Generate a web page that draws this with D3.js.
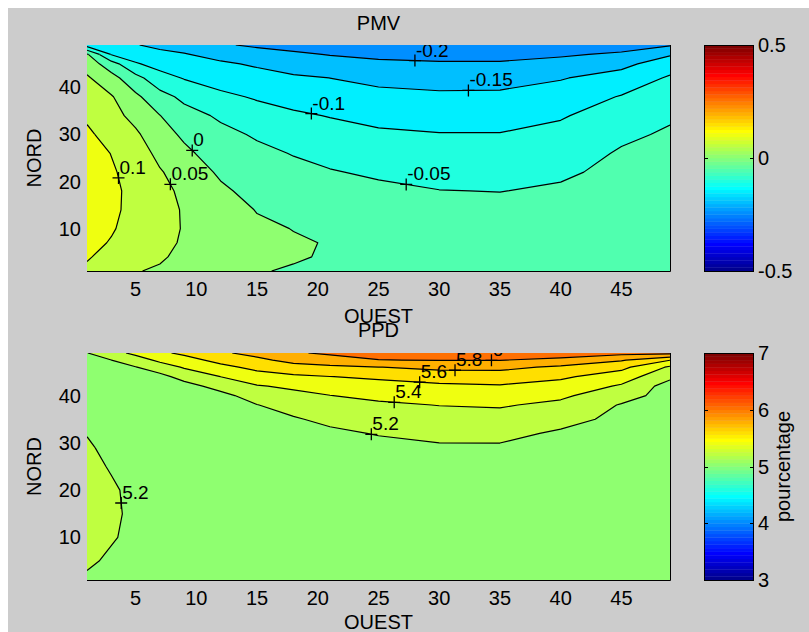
<!DOCTYPE html>
<html><head><meta charset="utf-8">
<script src="https://cdn.jsdelivr.net/npm/d3@7"></script>
<style>body{margin:0;background:#fff;} text{font-family:"Liberation Sans",Arial,Helvetica,sans-serif;fill:#000;}</style>
</head><body><svg id="c" width="809" height="632"></svg>
<script>
// ---------- data ----------
const xNodes = [1, 3, 5, 7, 9, 12, 15, 18, 21, 25, 30, 35, 40, 45, 49];
const pmvYNodes = [1, 4, 7, 10, 14, 18, 22, 26, 30, 34, 38, 42, 45, 47, 49];
const ppdYNodes = [1, 5, 10, 15, 20, 25, 29, 32, 35, 38, 40, 42, 44, 46, 47.5, 49];
// one array per x node, values from bottom (NORD=1) to top (NORD=49)
const pmvColumns = [
  [0.092, 0.104, 0.113, 0.120, 0.125, 0.127, 0.125, 0.119, 0.108, 0.093, 0.074, 0.056, 0.030, 0.006, -0.120],
  [0.072, 0.085, 0.097, 0.104, 0.108, 0.109, 0.105, 0.099, 0.083, 0.067, 0.054, 0.018, -0.029, -0.103, -0.130],
  [0.052, 0.065, 0.076, 0.083, 0.088, 0.088, 0.084, 0.075, 0.058, 0.035, 0.010, -0.034, -0.095, -0.124, -0.148],
  [0.045, 0.055, 0.062, 0.066, 0.067, 0.064, 0.054, 0.037, 0.019, 0.001, -0.033, -0.081, -0.118, -0.139, -0.160],
  [0.032, 0.040, 0.045, 0.047, 0.046, 0.040, 0.028, 0.010, -0.008, -0.032, -0.061, -0.103, -0.130, -0.147, -0.170],
  [0.016, 0.022, 0.026, 0.026, 0.022, 0.008, -0.007, -0.023, -0.038, -0.057, -0.090, -0.120, -0.143, -0.166, -0.195],
  [0.002, 0.008, 0.010, 0.008, -0.002, -0.015, -0.027, -0.040, -0.055, -0.080, -0.105, -0.133, -0.156, -0.182, -0.207],
  [-0.003, 0.003, 0.004, -0.001, -0.013, -0.026, -0.039, -0.052, -0.072, -0.093, -0.117, -0.143, -0.172, -0.193, -0.215],
  [-0.010, -0.003, -0.002, -0.011, -0.023, -0.035, -0.047, -0.064, -0.083, -0.102, -0.126, -0.1502, -0.181, -0.202, -0.222],
  [-0.015, -0.010, -0.010, -0.015, -0.025, -0.040, -0.057, -0.075, -0.093, -0.113, -0.136, -0.163, -0.190, -0.211, -0.235],
  [-0.020, -0.016, -0.017, -0.022, -0.032, -0.049, -0.065, -0.082, -0.098, -0.119, -0.141, -0.169, -0.194, -0.217, -0.243],
  [-0.024, -0.021, -0.021, -0.026, -0.035, -0.051, -0.067, -0.082, -0.098, -0.119, -0.140, -0.168, -0.193, -0.219, -0.249],
  [-0.025, -0.022, -0.022, -0.025, -0.032, -0.043, -0.058, -0.073, -0.088, -0.104, -0.128, -0.153, -0.184, -0.206, -0.235],
  [-0.025, -0.022, -0.021, -0.022, -0.025, -0.030, -0.037, -0.045, -0.059, -0.078, -0.097, -0.131, -0.163, -0.193, -0.220],
  [-0.025, -0.022, -0.021, -0.021, -0.023, -0.026, -0.030, -0.036, -0.044, -0.056, -0.075, -0.094, -0.124, -0.155, -0.205]
];
const ppdColumns = [
  [5.185, 5.215, 5.235, 5.245, 5.240, 5.225, 5.210, 5.197, 5.185, 5.172, 5.165, 5.162, 5.163, 5.170, 5.180, 5.195],
  [5.160, 5.185, 5.208, 5.215, 5.212, 5.193, 5.180, 5.170, 5.162, 5.155, 5.152, 5.152, 5.158, 5.175, 5.199, 5.330],
  [5.150, 5.165, 5.178, 5.182, 5.178, 5.168, 5.160, 5.155, 5.150, 5.148, 5.148, 5.152, 5.165, 5.193, 5.310, 5.445],
  [5.140, 5.152, 5.162, 5.165, 5.162, 5.155, 5.148, 5.145, 5.143, 5.143, 5.143, 5.140, 5.140, 5.307, 5.440, 5.567],
  [5.135, 5.145, 5.153, 5.155, 5.153, 5.148, 5.145, 5.142, 5.140, 5.135, 5.130, 5.127, 5.273, 5.418, 5.527, 5.636],
  [5.130, 5.137, 5.142, 5.143, 5.142, 5.138, 5.136, 5.135, 5.135, 5.138, 5.142, 5.271, 5.401, 5.548, 5.659, 5.770],
  [5.127, 5.132, 5.137, 5.138, 5.137, 5.133, 5.132, 5.132, 5.135, 5.195, 5.290, 5.386, 5.517, 5.653, 5.753, 5.864],
  [5.123, 5.128, 5.133, 5.134, 5.133, 5.130, 5.130, 5.135, 5.180, 5.282, 5.349, 5.433, 5.567, 5.725, 5.863, 5.975],
  [5.120, 5.125, 5.129, 5.130, 5.128, 5.128, 5.135, 5.158, 5.248, 5.337, 5.397, 5.496, 5.597, 5.766, 5.900, 6.036],
  [5.117, 5.122, 5.125, 5.126, 5.125, 5.125, 5.135, 5.213, 5.293, 5.372, 5.441, 5.530, 5.633, 5.796, 5.995, 6.080],
  [5.114, 5.118, 5.121, 5.122, 5.122, 5.130, 5.175, 5.251, 5.327, 5.404, 5.484, 5.564, 5.685, 5.853, 6.008, 6.120],
  [5.113, 5.117, 5.120, 5.120, 5.120, 5.128, 5.175, 5.253, 5.332, 5.417, 5.500, 5.583, 5.705, 5.850, 6.005, 6.140],
  [5.112, 5.116, 5.118, 5.118, 5.119, 5.125, 5.140, 5.172, 5.266, 5.359, 5.433, 5.529, 5.633, 5.767, 5.954, 6.100],
  [5.110, 5.113, 5.115, 5.115, 5.116, 5.118, 5.122, 5.130, 5.150, 5.186, 5.281, 5.376, 5.500, 5.653, 5.820, 6.060],
  [5.108, 5.109, 5.110, 5.110, 5.110, 5.111, 5.112, 5.113, 5.115, 5.118, 5.120, 5.118, 5.244, 5.369, 5.605, 6.057]
];
const pmvLevels = [-0.25, -0.2, -0.15, -0.1, -0.05, 0, 0.05, 0.1];
const ppdLevels = [5.0, 5.2, 5.4, 5.6, 5.8, 6.0];
// contour labels: level, approximate OUEST / NORD of the "+" marker
const pmvLabelLevels = [0.1, 0.05, 0, -0.05, -0.1, -0.15, -0.2];
const pmvLabelAt = [[3.5, 20.7], [7.3, 18.6], [9.7, 26.7], [27.3, 19.7], [19.5, 34.8], [32.4, 39.9], [28, 45.8]];
const ppdLabelLevels = [5.2, 5.2, 5.4, 5.6, 5.8, 6.0];
const ppdLabelAt = [[3.9, 17.3], [24.4, 31.7], [26.3, 38.8], [28.4, 43.3], [31.3, 45.4], [34.3, 47.5]];
const xTicks = [5, 10, 15, 20, 25, 30, 35, 40, 45];
const yTicks = [10, 20, 30, 40];
const pmvBarTicks = [-0.5, 0, 0.5];
const ppdBarTicks = [3, 4, 5, 6, 7];
const pmvRange = [-0.5, 0.5];
const ppdRange = [3, 7];

// ---------- style ----------
const FS = 20, LFS = 19;
const PL = 87, PR = 670, CBL = 704, CBR = 754;

function jet64(k) {
  const n = 16, u = [];
  for (let i = 1; i <= n; i++) u.push(i / n);
  for (let i = 0; i < n - 1; i++) u.push(1);
  for (let i = n; i >= 1; i--) u.push(i / n);
  const f = i => (i >= 1 && i <= u.length) ? u[i - 1] : 0;
  return d3.rgb(255 * f(k - 24), 255 * f(k - 8), 255 * f(k + 8)).toString();
}
function colorFor(v, range) {
  const k = Math.min(64, Math.floor((v - range[0]) / (range[1] - range[0]) * 64 + 1e-9) + 1);
  return jet64(Math.max(1, k));
}
const fmt = v => String(+v.toFixed(2));

const svg = d3.select('#c');
svg.append('rect').attr('x', 8).attr('y', 8).attr('width', 801).attr('height', 624).attr('fill', '#cccccc');

function panel(cfg) {
  const { top, bottom, columns, yNodes, levels, range, labelLevels, labelAt, barTicks, title, titleY, id, barTitle, xlabY } = cfg;
  const x = d3.scaleLinear().domain([1, 49]).range([PL, PR]);
  const y = d3.scaleLinear().domain([1, 49]).range([bottom, top]);
  const n = xNodes.length, m = yNodes.length;
  const vals = [];
  for (let j = 0; j < m; j++) for (let i = 0; i < n; i++) vals.push(columns[i][j]);
  const polys = d3.contours().size([n, m]).thresholds(levels)(vals);
  const ix = d3.scaleLinear().domain(d3.range(n)).range(xNodes);
  const iy = d3.scaleLinear().domain(d3.range(m)).range(yNodes);
  const cl = (v, a, b) => Math.max(a, Math.min(b, v));
  const P = p => [x(ix(cl(p[0] - 0.5, 0, n - 1))), y(iy(cl(p[1] - 0.5, 0, m - 1)))];
  const flags = p => {
    const a = p[0] - 0.5, b = p[1] - 0.5, e = 1e-9;
    return [a <= e, a >= n - 1 - e, b <= e, b >= m - 1 - e];
  };
  const onEdge = (a, b) => { const fa = flags(a), fb = flags(b); return fa.some((f, i) => f && fb[i]); };

  const g = svg.append('g');
  g.append('clipPath').attr('id', 'clip' + id).append('rect')
    .attr('x', PL).attr('y', top).attr('width', PR - PL).attr('height', bottom - top);
  const plot = g.append('g').attr('clip-path', `url(#clip${id})`);

  // fills
  plot.selectAll('path.fill').data(polys).join('path')
    .attr('class', 'fill')
    .attr('fill', d => colorFor(d.value, range))
    .attr('fill-rule', 'evenodd')
    .attr('d', d => d.coordinates.map(poly => poly.map(ring =>
      'M' + ring.map(p => P(p).map(v => v.toFixed(2)).join(',')).join('L') + 'Z').join('')).join(''));

  function isoLines(mp) {
    const lines = [];
    mp.coordinates.forEach(poly => poly.forEach(ring => {
      let len = ring.length;
      if (len > 1 && ring[0][0] === ring[len - 1][0] && ring[0][1] === ring[len - 1][1]) len--;
      let cur = null;
      for (let k = 0; k < len; k++) {
        const a = ring[k], b = ring[(k + 1) % len];
        if (onEdge(a, b)) { if (cur && cur.length > 1) lines.push(cur); cur = null; }
        else { if (!cur) cur = [P(a)]; cur.push(P(b)); }
      }
      if (cur && cur.length > 1) lines.push(cur);
    }));
    return lines;
  }
  const line = d3.line();
  polys.forEach(mp => {
    isoLines(mp).forEach(l => {
      plot.append('path').attr('d', line(l)).attr('fill', 'none')
        .attr('stroke', '#000').attr('stroke-width', 1.2).attr('stroke-linejoin', 'round');
    });
  });

  // labels
  labelLevels.forEach((lv, li) => {
    const mp = polys.find(p => Math.abs(p.value - lv) < 1e-9);
    if (!mp) return;
    const t = [x(labelAt[li][0]), y(labelAt[li][1])];
    let best = null, bd = Infinity;
    isoLines(mp).forEach(l => {
      for (let k = 0; k < l.length - 1; k++) {
        const a = l[k], b = l[k + 1];
        const dx = b[0] - a[0], dy = b[1] - a[1];
        const L2 = dx * dx + dy * dy || 1;
        const s = Math.max(0, Math.min(1, ((t[0] - a[0]) * dx + (t[1] - a[1]) * dy) / L2));
        const q = [a[0] + s * dx, a[1] + s * dy];
        const d = (q[0] - t[0]) ** 2 + (q[1] - t[1]) ** 2;
        if (d < bd) { bd = d; best = q; }
      }
    });
    if (!best) return;
    const [cx, cy] = best;
    plot.append('path').attr('d', `M${cx - 6},${cy}H${cx + 6}M${cx},${cy - 6}V${cy + 6}`)
      .attr('stroke', '#000').attr('stroke-width', 1.3);
    plot.append('text').attr('x', cx + 1).attr('y', cy - 4).attr('font-size', LFS).text(fmt(lv));
  });

  // box lines (bottom and right visible)
  g.append('line').attr('x1', PL).attr('x2', PR + 0.5).attr('y1', bottom + 0.5).attr('y2', bottom + 0.5).attr('stroke', '#000');
  g.append('line').attr('x1', PR + 0.5).attr('x2', PR + 0.5).attr('y1', top).attr('y2', bottom + 0.5).attr('stroke', '#000');

  // tick labels
  g.selectAll('text.xt').data(xTicks).join('text').attr('class', 'xt')
    .attr('x', d => x(d)).attr('y', bottom + 25).attr('text-anchor', 'middle').attr('font-size', FS).text(d => d);
  g.selectAll('text.yt').data(yTicks).join('text').attr('class', 'yt')
    .attr('x', 81).attr('y', d => y(d) + 7).attr('text-anchor', 'end').attr('font-size', FS).text(d => d);
  g.append('text').attr('x', (PL + PR) / 2).attr('y', xlabY).attr('text-anchor', 'middle').attr('font-size', FS).text('OUEST');
  g.append('text').attr('transform', `translate(41,${(top + bottom) / 2}) rotate(-90)`)
    .attr('text-anchor', 'middle').attr('font-size', FS).text('NORD');
  g.append('text').attr('x', (PL + PR) / 2).attr('y', titleY).attr('text-anchor', 'middle').attr('font-size', FS).text(title);

  // colorbar
  const cy = d3.scaleLinear().domain(range).range([bottom, top]);
  const h = (bottom - top) / 64;
  g.selectAll('rect.cb').data(d3.range(1, 65)).join('rect').attr('class', 'cb')
    .attr('x', CBL).attr('width', CBR - CBL)
    .attr('y', k => bottom - k * h).attr('height', h + 0.3)
    .attr('fill', k => jet64(k));
  g.append('rect').attr('x', CBL + 0.5).attr('y', top + 0.5).attr('width', CBR - CBL - 1).attr('height', bottom - top)
    .attr('fill', 'none').attr('stroke', '#000');
  barTicks.forEach(v => {
    const yy = Math.round(cy(v)) + 0.5;
    g.append('path').attr('d', `M${CBL},${yy}h4M${CBR},${yy}h-4`).attr('stroke', '#000');
    g.append('text').attr('x', 758).attr('y', cy(v) + 7).attr('font-size', FS).text(fmt(v));
  });
  if (barTitle) {
    g.append('text').attr('transform', `translate(790,${(top + bottom) / 2}) rotate(-90)`)
      .attr('text-anchor', 'middle').attr('font-size', FS).text(barTitle);
  }
}

panel({ id: 1, top: 45, bottom: 271, columns: pmvColumns, yNodes: pmvYNodes, levels: pmvLevels, range: pmvRange,
  labelLevels: pmvLabelLevels, labelAt: pmvLabelAt, barTicks: pmvBarTicks, title: 'PMV', titleY: 30, xlabY: 323 });
panel({ id: 2, top: 353, bottom: 580, columns: ppdColumns, yNodes: ppdYNodes, levels: ppdLevels, range: ppdRange,
  labelLevels: ppdLabelLevels, labelAt: ppdLabelAt, barTicks: ppdBarTicks, title: 'PPD', titleY: 337, xlabY: 629, barTitle: 'pourcentage' });
</script></body></html>
